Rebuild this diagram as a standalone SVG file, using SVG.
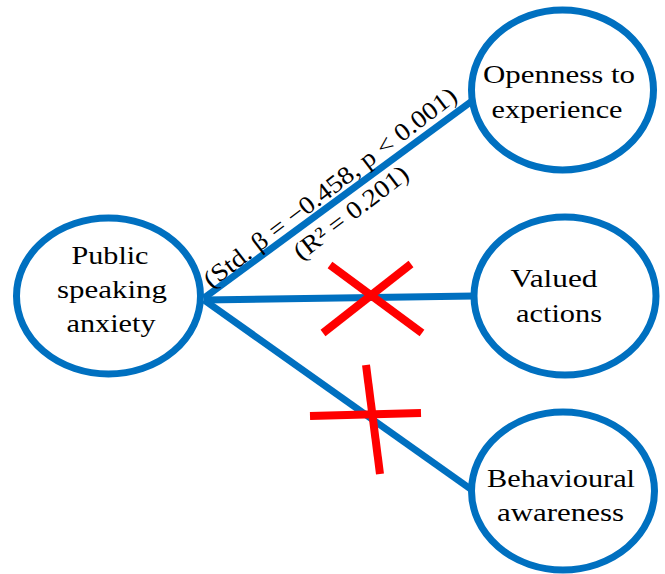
<svg xmlns="http://www.w3.org/2000/svg" width="665" height="574" viewBox="0 0 665 574">
<style>
.node{fill:#fff;stroke:#0070C0;stroke-width:7}
.lbl{font-family:"Liberation Serif","Times New Roman",serif;font-size:26px;fill:#000;text-anchor:middle}
.edge{stroke:#0070C0;stroke-width:7;fill:none}
.cross{stroke:#FF0000;stroke-width:8;fill:none}
.elbl{font-family:"Liberation Serif","Times New Roman",serif;font-size:25px;fill:#000;text-anchor:middle}
</style>
<rect width="665" height="574" fill="#fff"/>
<g id="connectors">
<line class="edge" x1="204" y1="298" x2="472" y2="101"/>
<line class="edge" x1="204" y1="300" x2="474" y2="296"/>
<line class="edge" x1="204" y1="300" x2="472" y2="490"/>
<text class="elbl" transform="translate(335,194) rotate(-37.5)" textLength="312" lengthAdjust="spacingAndGlyphs">(Std. β = −0.458, p &lt; 0.001)</text>
<text class="elbl" transform="translate(356,219) rotate(-37.5)" textLength="138" lengthAdjust="spacingAndGlyphs">(R² = 0.201)</text>
</g>
<g id="crosses">
<line class="cross" x1="330" y1="265" x2="422" y2="333"/>
<line class="cross" x1="411" y1="264" x2="323" y2="333"/>
<line class="cross" x1="366" y1="365" x2="380" y2="474"/>
<line class="cross" x1="310" y1="416" x2="421" y2="413"/>
</g>
<g id="node-psa">
<ellipse class="node" cx="108.5" cy="296" rx="92" ry="78"/>
<text class="lbl" x="110" y="264" textLength="77" lengthAdjust="spacingAndGlyphs">Public</text>
<text class="lbl" x="112" y="298" textLength="110" lengthAdjust="spacingAndGlyphs">speaking</text>
<text class="lbl" x="111" y="332" textLength="89" lengthAdjust="spacingAndGlyphs">anxiety</text>
</g>
<g id="node-openness">
<ellipse class="node" cx="562.5" cy="90" rx="91" ry="80"/>
<text class="lbl" x="559" y="83" textLength="152" lengthAdjust="spacingAndGlyphs">Openness to</text>
<text class="lbl" x="557" y="118" textLength="131" lengthAdjust="spacingAndGlyphs">experience</text>
</g>
<g id="node-valued">
<ellipse class="node" cx="565" cy="296" rx="91" ry="79"/>
<text class="lbl" x="554" y="287" textLength="87" lengthAdjust="spacingAndGlyphs">Valued</text>
<text class="lbl" x="559" y="322" textLength="86" lengthAdjust="spacingAndGlyphs">actions</text>
</g>
<g id="node-behavioural">
<ellipse class="node" cx="563" cy="491" rx="91.5" ry="79"/>
<text class="lbl" x="561" y="487" textLength="148" lengthAdjust="spacingAndGlyphs">Behavioural</text>
<text class="lbl" x="560.5" y="521" textLength="127" lengthAdjust="spacingAndGlyphs">awareness</text>
</g>
</svg>
